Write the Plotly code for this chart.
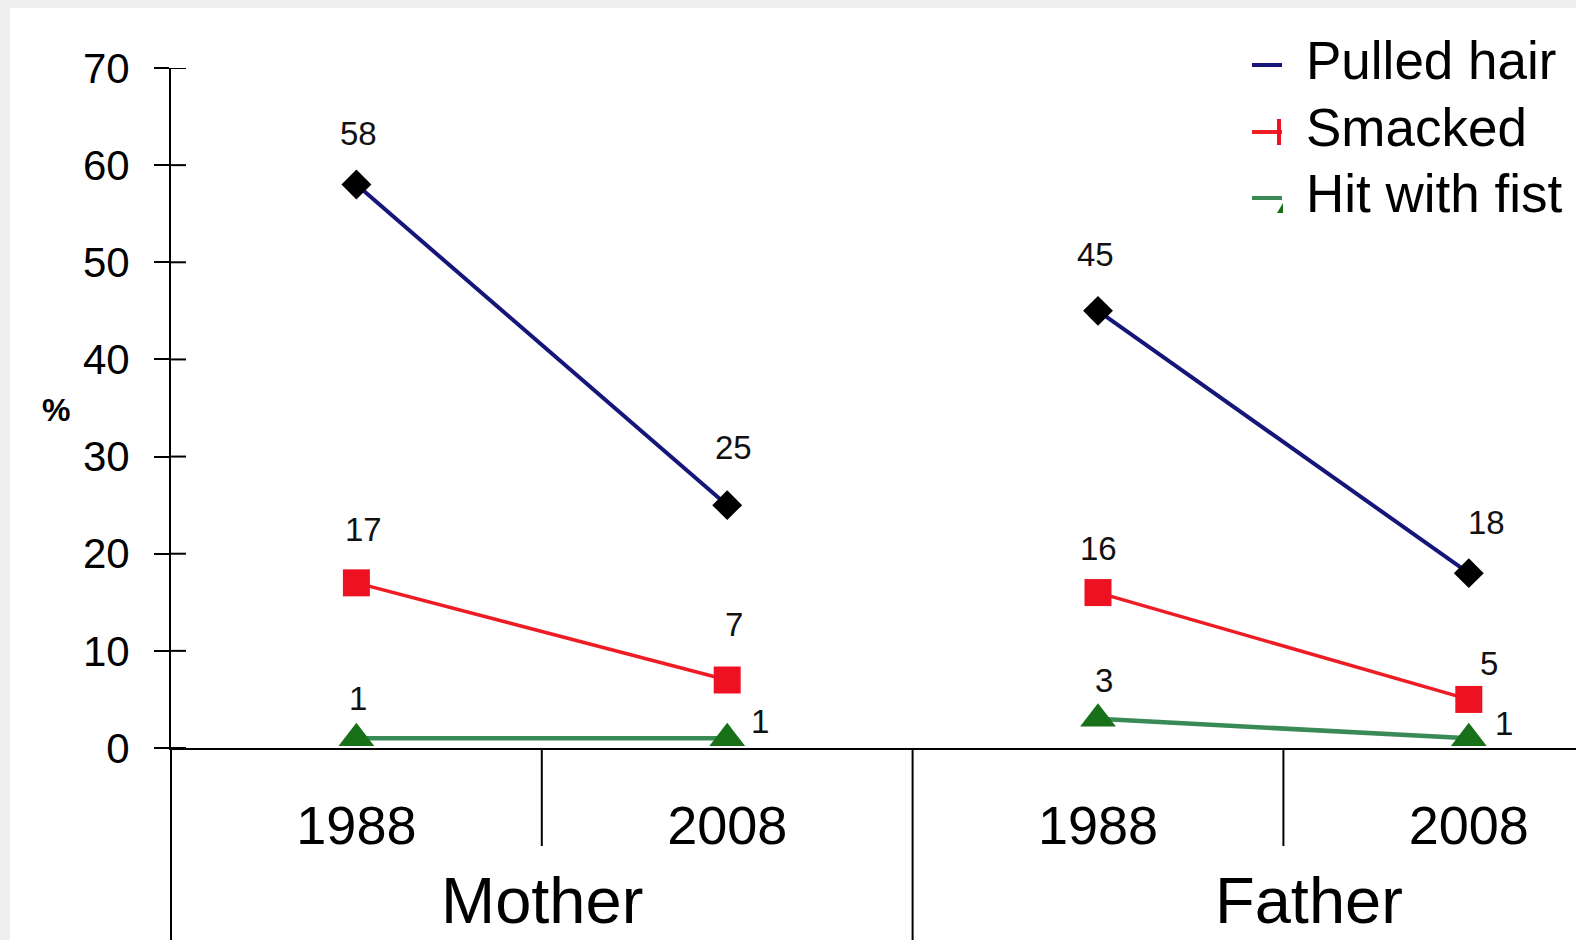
import plotly.graph_objects as go

# ---- data ----
groups = ["Mother", "Father"]
years = ["1988", "2008"]
series = ["Pulled hair", "Smacked", "Hit with fist"]
mother_vals = {"Pulled hair": [58, 25], "Smacked": [17, 7], "Hit with fist": [1, 1]}
father_vals = {"Pulled hair": [45, 18], "Smacked": [16, 5], "Hit with fist": [3, 1]}
y_ticks = [0, 10, 20, 30, 40, 50, 60, 70]

# ---- styles ----
line_colors = {"Pulled hair": "#16167a", "Smacked": "#ee1c25", "Hit with fist": "#3a8a55"}
marker_colors = {"Pulled hair": "#000000", "Smacked": "#ee1122", "Hit with fist": "#187018"}
marker_symbols = {"Pulled hair": "diamond", "Smacked": "square", "Hit with fist": "triangle-up"}
marker_sizes = {"Pulled hair": 23, "Smacked": 27, "Hit with fist": 31}
line_widths = {"Pulled hair": 4, "Smacked": 3.5, "Hit with fist": 4.5}
# label offsets (px) relative to each point: (dx, dy up), order Mother1988, Mother2008, Father1988, Father2008
label_offsets = {
    "Pulled hair": [(2, 51), (6, 58), (-3, 56), (18, 51)],
    "Smacked": [(7, 53), (7, 56), (0, 44), (20, 36)],
    "Hit with fist": [(2, 40), (33, 17), (6, 38), (35, 15)],
}
FONT = "Arial, Liberation Sans, sans-serif"

n_cat = len(groups) * len(years)
xpos = list(range(n_cat))
tick_text = [y for g in groups for y in years]

# geometry helpers
L, T, B = 171, 68, 192
W, H = 1576, 940
pw, ph = W - L, H - T - B
def px_x(p):  # pixel -> paper x
    return (p - L) / pw
def px_y(p):  # pixel -> paper y
    return (H - B - p) / ph

fig = go.Figure()
for s in series:
    xs, ys = [], []
    for gi, vals in enumerate([mother_vals[s], father_vals[s]]):
        for yi, v in enumerate(vals):
            xs.append(gi * len(years) + yi)
            ys.append(v)
        xs.append(None)
        ys.append(None)
    fig.add_trace(go.Scatter(
        x=xs, y=ys, mode="lines+markers", showlegend=False, name=s,
        line=dict(color=line_colors[s], width=line_widths[s]),
        marker=dict(symbol=marker_symbols[s], size=marker_sizes[s], color=marker_colors[s]),
        connectgaps=False, cliponaxis=False,
    ))
    vals_all = mother_vals[s] + father_vals[s]
    for i, v in enumerate(vals_all):
        dx, dy = label_offsets[s][i]
        fig.add_annotation(x=xpos[i], y=v, text=str(v), showarrow=False,
                           xshift=dx, yshift=dy, font=dict(family=FONT, size=33, color="#111111"))

shapes = []
# white panel over gray page background
shapes.append(dict(type="rect", xref="paper", yref="paper", x0=px_x(10), x1=px_x(W + 5),
                   y0=px_y(H + 5), y1=px_y(8), fillcolor="white", line=dict(width=0), layer="below"))
# y axis extension below zero
shapes.append(dict(type="line", xref="paper", yref="paper", x0=0, x1=0, y0=0, y1=px_y(H + 5),
                   line=dict(color="black", width=2)))
# inside tick halves
for t in y_ticks:
    shapes.append(dict(type="line", xref="paper", yref="y", x0=0, x1=px_x(L + 15), y0=t, y1=t,
                       line=dict(color="black", width=2)))
# category separators
for b in [0.5, 2.5]:
    shapes.append(dict(type="line", xref="x", yref="paper", x0=b, x1=b, y0=0, y1=px_y(846),
                       line=dict(color="black", width=2)))
shapes.append(dict(type="line", xref="x", yref="paper", x0=1.5, x1=1.5, y0=0, y1=px_y(H + 5),
                   line=dict(color="black", width=2)))

# custom legend (short line keys, clipped marker fragments as in the source)
legend_rows = [65, 132, 198]
legend_text_x = 1304
for s, ry in zip(series, legend_rows):
    shapes.append(dict(type="line", xref="paper", yref="paper", x0=px_x(1252), x1=px_x(1282),
                       y0=px_y(ry), y1=px_y(ry), line=dict(color=line_colors[s], width=4)))
    fig.add_annotation(x=px_x(legend_text_x), y=px_y(ry - 5), xref="paper", yref="paper", text=s,
                       showarrow=False, xanchor="left", yanchor="middle",
                       font=dict(family=FONT, size=53, color="black"))
# fragments of markers at the clip edge
shapes.append(dict(type="line", xref="paper", yref="paper", x0=px_x(1279), x1=px_x(1279),
                   y0=px_y(119), y1=px_y(145), line=dict(color=marker_colors["Smacked"], width=4)))
shapes.append(dict(type="path", xref="paper", yref="paper",
                   path="M {:.5f} {:.5f} L {:.5f} {:.5f} L {:.5f} {:.5f} Z".format(
                       px_x(1277), px_y(213), px_x(1283), px_y(203), px_x(1283), px_y(213)),
                   fillcolor=marker_colors["Hit with fist"], line=dict(width=0)))

# group labels
group_shift = [0, 26]
for gi, g in enumerate(groups):
    fig.add_annotation(x=gi * len(years) + (len(years) - 1) / 2, y=px_y(900), xref="x", yref="paper",
                       text=g, showarrow=False, xshift=group_shift[gi], xanchor="center",
                       yanchor="middle", font=dict(family=FONT, size=65, color="black"))
# % label
fig.add_annotation(x=px_x(56), y=px_y(410), xref="paper", yref="paper", text="<b>%</b>",
                   showarrow=False, xanchor="center", yanchor="middle",
                   font=dict(family=FONT, size=32, color="black"))

fig.update_layout(
    width=W, height=H,
    margin=dict(l=L, r=0, t=T, b=B, pad=0, autoexpand=False),
    paper_bgcolor="#eeeeee", plot_bgcolor="white",
    font=dict(family=FONT, color="black"),
    shapes=shapes,
    showlegend=False,
    hovermode=False,
    xaxis=dict(range=[-0.5, (W - L) / 370.8 - 0.5], tickvals=xpos, ticktext=tick_text,
               showgrid=False, zeroline=False, showline=True, linecolor="black", linewidth=2,
               ticks="", ticklabelstandoff=29, tickfont=dict(family=FONT, size=54, color="black")),
    yaxis=dict(range=[0, 70], tickvals=y_ticks, showgrid=False, zeroline=False,
               showline=True, linecolor="black", linewidth=2,
               ticks="outside", ticklen=15, tickwidth=2, tickcolor="black",
               ticklabelstandoff=16, tickfont=dict(family=FONT, size=42, color="black")),
)

fig.write_html("out.html", config={"displayModeBar": False},
               post_script="document.body.style.margin='0';")
